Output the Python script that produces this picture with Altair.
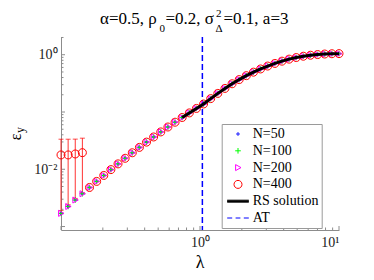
import altair as alt
import pandas as pd

# ---------------- data ----------------
lam = [0.1, 0.11253, 0.12663, 0.14251, 0.16037, 0.18047, 0.20309, 0.22854,
       0.25719, 0.28943, 0.32570, 0.36652, 0.41246, 0.46416, 0.52233, 0.58780,
       0.66147, 0.74438, 0.83768, 0.94267, 1.0608, 1.1938, 1.3434, 1.5118,
       1.7013, 1.9145, 2.1544, 2.4245, 2.7283, 3.0703, 3.4551, 3.8882,
       4.3755, 4.9239, 5.5410, 6.2355, 7.0170, 7.8966, 8.8862, 10.0]

eps_main = [0.001698, 0.002239, 0.002904, 0.003741, 0.004808, 0.006138,
            0.007798, 0.009863, 0.012417, 0.015560, 0.019409, 0.024099,
            0.029785, 0.036644, 0.044875, 0.054702, 0.066374, 0.080168,
            0.096383, 0.115345, 0.13804, 0.1713, 0.2112, 0.2583, 0.3110,
            0.3682, 0.4309, 0.4961, 0.5644, 0.6342, 0.7045, 0.7727, 0.8377,
            0.8933, 0.9414, 0.9802, 1.008, 1.029, 1.041, 1.045]

eps_n50 = list(eps_main)
eps_n100 = list(eps_main)
eps_n200 = list(eps_main)
eps_n400 = [0.0178, 0.0178, 0.0185, 0.0195] + eps_main[4:]

# N=400 error bars for the first four lambdas
lam_err = lam[:4]
err400_lo = [0.0019, 0.0024, 0.0031, 0.0039]
err400_hi = [0.0335, 0.0335, 0.0336, 0.0349]

# RS solution
rs_lam = lam[17:]
rs_eps = eps_main[17:]

# AT line
lam_at = [1.04]

series_labels = ["N=50", "N=100", "N=200", "N=400", "RS solution", "AT"]
series_colors = ["#0000ff", "#00ff00", "#ff00ff", "#ff0000", "#000000", "#0000ff"]

x_major = [0.1, 1, 10]
x_minor = [0.2, 0.3, 0.4, 0.5, 0.6, 0.7, 0.8, 0.9, 2, 3, 4, 5, 6, 7, 8, 9]
y_major = [0.001, 0.01, 0.1, 1]
y_minor = [0.002, 0.003, 0.004, 0.005, 0.006, 0.007, 0.008, 0.009,
           0.02, 0.03, 0.04, 0.05, 0.06, 0.07, 0.08, 0.09,
           0.2, 0.3, 0.4, 0.5, 0.6, 0.7, 0.8, 0.9, 2]

# ---------------- tables ----------------
pts = pd.concat([
    pd.DataFrame({"lam": lam, "eps": eps_n50, "series": "N=50"}),
    pd.DataFrame({"lam": lam, "eps": eps_n100, "series": "N=100"}),
    pd.DataFrame({"lam": lam, "eps": eps_n200, "series": "N=200"}),
    pd.DataFrame({"lam": lam, "eps": eps_n400, "series": "N=400"}),
], ignore_index=True)
err_df = pd.DataFrame({"lam": lam_err, "lo": err400_lo, "hi": err400_hi})
rs_df = pd.DataFrame({"lam": rs_lam, "eps": rs_eps})
at_df = pd.DataFrame({"lam": lam_at})

W, H = 278, 193
FONT = "'Liberation Serif', 'Times New Roman', serif"
AXC = "#8c8c8c"

xs = alt.Scale(type="log", domain=[0.1, 10], nice=False)
ys = alt.Scale(type="log", domain=[0.00087, 2.04], nice=False)

xaxis = alt.Axis(values=[1, 10], labelExpr="datum.value == 1 ? '10⁰' : '10¹'",
                 ticks=False, tickSize=0, grid=False, title=None, domainColor=AXC,
                 domainWidth=1, labelFont=FONT, labelFontSize=14, labelColor="#1a1a1a",
                 labelPadding=5)
yaxis = alt.Axis(values=[0.01, 1], labelExpr="datum.value == 1 ? '10⁰' : '10⁻²'",
                 ticks=False, tickSize=0, grid=False, title=None, domainColor=AXC,
                 domainWidth=1, labelFont=FONT, labelFontSize=14, labelColor="#1a1a1a",
                 labelPadding=4)

marker_paths = [
    "M0.3,0A0.3,0.3,0,1,1,-0.3,0A0.3,0.3,0,1,1,0.3,0Z",
    "M-0.7,0H0.7M0,-0.7V0.7",
    "M-0.6,-0.75L0.75,0L-0.6,0.75Z",
    "M1,0A1,1,0,1,1,-1,0A1,1,0,1,1,1,0Z",
    "M-2.7,-0.25H2.7M-2.7,-0.08H2.7M-2.7,0.08H2.7M-2.7,0.25H2.7",
    "M-2.7,0H-1.45M-0.6,0H0.6M1.45,0H2.7",
]

leg = alt.Legend(title=None, orient="none", legendX=160.7, legendY=87, padding=3,
                 fillColor="white", strokeColor="#9a9a9a", cornerRadius=0,
                 labelFont=FONT, labelFontSize=14, labelColor="black",
                 rowPadding=2.8, symbolSize=64, symbolStrokeWidth=1,
                 symbolOffset=6.3, labelOffset=7.7)

X = alt.X("lam:Q", scale=xs, axis=xaxis)
Y = alt.Y("eps:Q", scale=ys, axis=yaxis)

# inside ticks
xt_minor = alt.Chart(pd.DataFrame({"lam": x_minor})).mark_rule(color=AXC, strokeWidth=1).encode(
    x=X, y=alt.value(H), y2=alt.value(H - 2.5))
xt_major = alt.Chart(pd.DataFrame({"lam": x_major})).mark_rule(color=AXC, strokeWidth=1).encode(
    x=X, y=alt.value(H), y2=alt.value(H - 4))
yt_minor = alt.Chart(pd.DataFrame({"eps": y_minor})).mark_rule(color=AXC, strokeWidth=1).encode(
    y=Y, x=alt.value(0), x2=alt.value(2.5))
yt_major = alt.Chart(pd.DataFrame({"eps": y_major})).mark_rule(color=AXC, strokeWidth=1).encode(
    y=Y, x=alt.value(0), x2=alt.value(4))

at_line = alt.Chart(at_df).mark_rule(color="#0000ff", strokeWidth=1.5, strokeDash=[6, 3]).encode(x=X)

err_rule = alt.Chart(err_df).mark_rule(color="#ff0000", strokeWidth=1, opacity=0.8).encode(
    x=X, y=alt.Y("lo:Q", scale=ys, axis=yaxis), y2="hi:Q")
cap_hi = alt.Chart(err_df).mark_tick(color="#ff0000", orient="horizontal", size=5, thickness=1).encode(
    x=X, y=alt.Y("hi:Q", scale=ys, axis=yaxis))
cap_lo = alt.Chart(err_df).mark_tick(color="#ff0000", orient="horizontal", size=5, thickness=1).encode(
    x=X, y=alt.Y("lo:Q", scale=ys, axis=yaxis))

points = alt.Chart(pts).mark_point(filled=False, size=64, strokeWidth=1, opacity=1).encode(
    x=X, y=Y,
    color=alt.Color("series:N", scale=alt.Scale(domain=series_labels, range=series_colors), legend=leg),
    shape=alt.Shape("series:N", scale=alt.Scale(domain=series_labels, range=marker_paths), legend=leg),
)

rs_line = alt.Chart(rs_df).mark_line(color="#000000", strokeWidth=3).encode(x=X, y=Y)


def txt(s, x, y, size, angle=0, align="left", baseline="alphabetic"):
    return alt.Chart(pd.DataFrame({"t": [s]})).mark_text(
        font=FONT, fontSize=size, color="#000000", align=align, baseline=baseline, angle=angle
    ).encode(text="t:N", x=alt.value(x), y=alt.value(y))


title_parts = [
    txt("α=0.5, ρ", 39, -13, 17),
    txt("0", 98.5, -5, 11),
    txt("=0.2, σ", 104.5, -13, 17),
    txt("2", 155, -20, 11),
    txt("Δ", 154.5, -5, 11),
    txt("=0.1, a=3", 162.5, -13, 17),
    txt("λ", 139, 231, 18, align="center"),
    txt("ε", -45, 100, 16, angle=270, align="center", baseline="middle"),
    txt("y", -37, 93, 12, angle=270, align="center"),
]

chart = alt.layer(
    xt_minor, xt_major, yt_minor, yt_major, at_line, err_rule, cap_hi, cap_lo,
    points, rs_line, *title_parts
).properties(
    width=W, height=H,
    padding={"left": 53, "top": 29, "right": 27, "bottom": 42},
    autosize=alt.AutoSizeParams(type="none"),
).configure_view(stroke=None)

chart.save("out.html", embed_options={"renderer": "svg", "actions": False})
